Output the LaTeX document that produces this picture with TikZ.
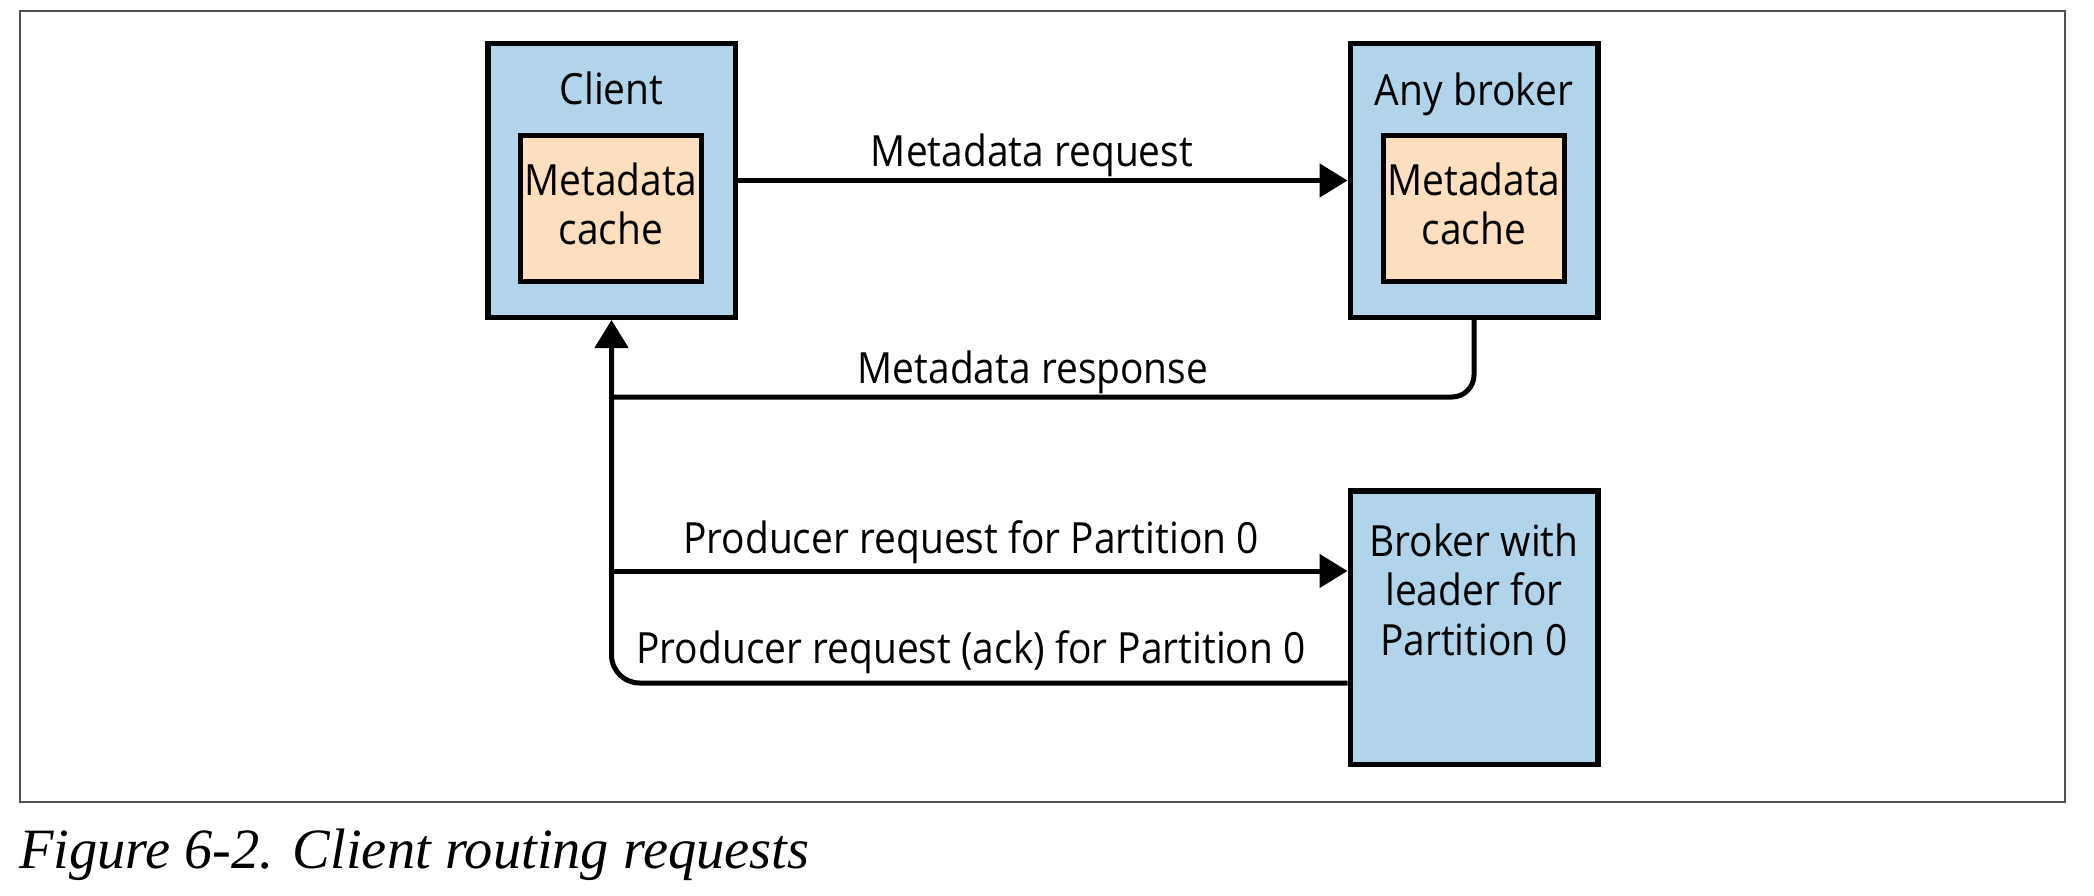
\documentclass[tikz,border=0pt]{standalone}
\usepackage{fontspec}
\usepackage{graphicx}
\newfontfamily\diagfont[FakeStretch=0.905]{Open Sans}
\newfontfamily\capfont[FakeStretch=0.99]{Liberation Serif}
\usetikzlibrary{arrows.meta}
\definecolor{boxblue}{HTML}{B2D4EA}
\definecolor{cachepeach}{HTML}{FCDFBF}
\definecolor{framegray}{HTML}{505050}
\begin{document}
\begin{tikzpicture}[x=1pt,y=-1pt,
  lbl/.style={font=\diagfont\fontsize{43}{49.5}\selectfont, inner sep=0pt, align=center, text=black},
  outerbox/.style={draw=black, line width=5.5pt, fill=boxblue, minimum width=247.5pt, minimum height=273.5pt, inner sep=0pt},
  cachebox/.style={draw=black, line width=5pt, fill=cachepeach, minimum width=181pt, minimum height=146pt, inner sep=0pt},
  conn/.style={draw=black, line width=5pt},
  tip/.style={-{Triangle[length=28pt,width=33pt]}}
]
\useasboundingbox (0,0) rectangle (2094,896);
\draw[framegray, line width=1.5pt] (20,11) rectangle (2065,802);

% boxes
\node[outerbox] (client) at (611.5,180.5) {};
\node[cachebox] (ccache) at (611,208.5) {};
\node[outerbox] (anyb) at (1474,180.5) {};
\node[cachebox] (bcache) at (1474,208.5) {};
\node[outerbox] (leader) at (1474,627.5) {};

% helper coordinates
\coordinate (respy) at (0,397);
\coordinate (prody) at (0,571);
\coordinate (acky) at (0,683);

% connectors
\draw[conn,tip] (client.east) -- (anyb.west);
\draw[conn, rounded corners=22pt] (anyb.south) |- (client.south |- respy);
\draw[conn,tip] (client.south |- prody) -- (leader.west |- prody);
\draw[conn,tip,rounded corners=28pt] (leader.west |- acky) -| (client.south);

% labels
\node[lbl, anchor=base] (tclient) at (611.5,105) {Client};
\node[lbl, anchor=base] (tanyb) at (1474,106) {Any broker};
\node[lbl, anchor=base] (tccache) at (611,245) {Metadata\\cache};
\node[lbl, anchor=base] (tbcache) at (1474,245) {Metadata\\cache};
\node[lbl, anchor=base] (treq) at (1032,167) {Metadata request};
\node[lbl, anchor=base] (tresp) at (1033,383) {Metadata response};
\node[lbl, anchor=base] (tprod) at (971,553) {Producer request for Partition 0};
\node[lbl, anchor=base] (tack) at (971,663) {Producer request (ack) for Partition 0};
\node[lbl, anchor=base] (tleader) at (1474,655) {Broker with\\leader for\\Partition 0};

% caption
\node[anchor=base west, inner sep=0pt, font=\capfont\itshape\fontsize{57}{62}\selectfont] (caption) at (19,868) {Figure 6-2. Client routing requests};
\end{tikzpicture}
\end{document}
